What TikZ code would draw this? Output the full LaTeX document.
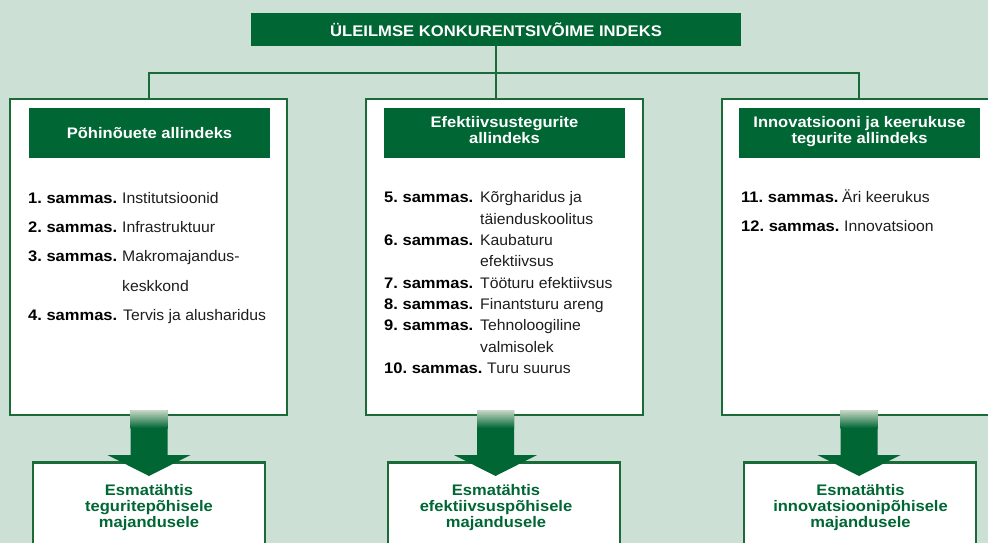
\documentclass[tikz,border=0pt]{standalone}
\usepackage{fontspec}
\setmainfont{Liberation Sans}[UprightFeatures={FakeStretch=1.03},BoldFeatures={FakeStretch=1.08}]
\frenchspacing
\definecolor{wefgreen}{HTML}{006633}
\definecolor{wefbg}{HTML}{CDE0D5}
\definecolor{wefline}{HTML}{1B6B38}
\definecolor{weftext}{HTML}{1E1E1E}
\definecolor{weffade}{HTML}{C9D8C6}
\tikzset{
  panel/.style={draw=wefline, line width=2.5pt, fill=white, inner sep=0pt},
  header/.style={fill=wefgreen, text=white, font=\bfseries\fontsize{15.3}{16}\selectfont, align=center, minimum width=241pt, minimum height=50pt, inner sep=0pt},
  pillar/.style={anchor=base west, inner sep=0pt, font=\bfseries\fontsize{15.3}{18}\selectfont},
  item/.style={anchor=base west, inner sep=0pt, font=\fontsize{15.3}{18}\selectfont, text=weftext},
  tie/.style={draw=wefline, line width=2.5pt},
  stage/.style={text=wefgreen, font=\bfseries\fontsize{15.3}{15.7}\selectfont, align=center, inner sep=0pt}
}
\begin{document}
\begin{tikzpicture}[x=1pt,y=-1pt]
                \useasboundingbox (0,0) rectangle (988,543);
                \clip (0,0) rectangle (988,543);
                \fill [wefbg] (0,0) rectangle (988,543);
                \node [fill=wefgreen, text=white, font=\bfseries\fontsize{15.4}{18}\selectfont, minimum width=490pt, minimum height=33pt, inner sep=0pt] (top) at (496,29.5) {ÜLEILMSE KONKURENTSIVÕIME INDEKS};
                \coordinate (j1) at (149,73);
                \coordinate (j3) at (859,73);
                \node [panel, minimum width=277pt, minimum height=316pt] (sub1) at (148.5,257) {};
                \node [panel, minimum width=277pt, minimum height=316pt] (sub2) at (504.5,257) {};
                \node [panel, minimum width=277pt, minimum height=316pt] (sub3) at (860.5,257) {};
                \draw [tie] (top.south) -- (top.south |- sub2.north) ;
                \draw [tie] (j1 |- sub1.north) -- (j1) -- (j3) -- (j3 |- sub3.north) ;
                \node [header] (h1) at (149.5,133) {Põhinõuete allindeks};
                \node [header, text depth=6pt] (h2) at (504.5,133) {Efektiivsustegurite\\allindeks};
                \node [header, text depth=6pt] (h3) at (859.5,133) {Innovatsiooni ja keerukuse\\tegurite allindeks};
                \node [pillar] (p1) at (28,203) {1. sammas.};
                \node [item] (t1) at (122,203) {Institutsioonid};
                \node [pillar] (p2) at (28,232) {2. sammas.};
                \node [item] (t2) at (122,232) {Infrastruktuur};
                \node [pillar] (p3) at (28,261.5) {3. sammas.};
                \node [item] (t3) at (122,261.5) {Makromajandus-};
                \node [item] (t3b) at (122,291) {keskkond};
                \node [pillar] (p4) at (28,320) {4. sammas.};
                \node [item] (t4) at (123,320) {Tervis ja alusharidus};
                \node [pillar] (p5) at (384,202.7) {5. sammas.};
                \node [item] (t5) at (480,202.7) {Kõrgharidus ja};
                \node [item] (t5b) at (480,224) {täienduskoolitus};
                \node [pillar] (p6) at (384,245.3) {6. sammas.};
                \node [item] (t6) at (480,245.3) {Kaubaturu};
                \node [item] (t6b) at (480,266.7) {efektiivsus};
                \node [pillar] (p7) at (384,288) {7. sammas.};
                \node [item] (t7) at (480,288) {Tööturu efektiivsus};
                \node [pillar] (p8) at (384,309.3) {8. sammas.};
                \node [item] (t8) at (480,309.3) {Finantsturu areng};
                \node [pillar] (p9) at (384,330.7) {9. sammas.};
                \node [item] (t9) at (480,330.7) {Tehnoloogiline};
                \node [item] (t9b) at (480,352) {valmisolek};
                \node [pillar] (p10) at (384,373.3) {10. sammas.};
                \node [item] (t10) at (487,373.3) {Turu suurus};
                \node [pillar] (p11) at (741,202.7) {11. sammas.};
                \node [item] (t11) at (842,202.7) {Äri keerukus};
                \node [pillar] (p12) at (741,231.7) {12. sammas.};
                \node [item] (t12) at (844,231.7) {Innovatsioon};
                \node [panel, minimum width=232pt, minimum height=120pt, anchor=north] (s1) at (149,461) {};
                \node [panel, minimum width=232pt, minimum height=120pt, anchor=north] (s2) at (504,461) {};
                \node [panel, minimum width=232pt, minimum height=120pt, anchor=north] (s3) at (860,461) {};
                \foreach \cx in {149,495.5,859} {
                  \fill [wefgreen] (\cx-18.5,410) -- (\cx+18.5,410) -- (\cx+18.5,455) -- (\cx+41.5,455) -- (\cx,476) -- (\cx-41.5,455) -- (\cx-18.5,455) -- cycle ;
                  \shade [top color=weffade, bottom color=wefgreen] (\cx-18.5,410) rectangle (\cx+18.5,428) ;
                }
                \node [stage] (e1) at (149,507.7) {Esmatähtis\\teguritepõhisele\\majandusele};
                \node [stage] (e2) at (496,507.7) {Esmatähtis\\efektiivsuspõhisele\\majandusele};
                \node [stage] (e3) at (860.5,507.7) {Esmatähtis\\innovatsioonipõhisele\\majandusele};
\end{tikzpicture}
\end{document}
